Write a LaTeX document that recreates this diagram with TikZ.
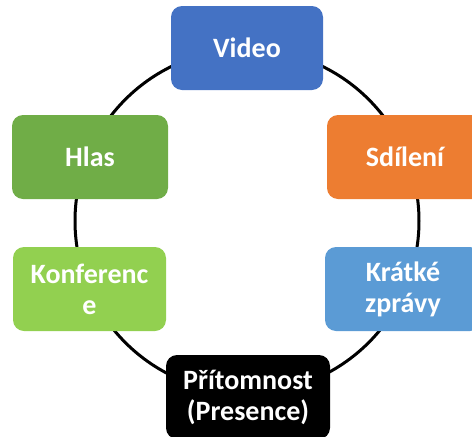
\documentclass[tikz,border=0pt]{standalone}
\usepackage{fontspec}
\setmainfont{Carlito}
\definecolor{cVideo}{HTML}{4472C4}
\definecolor{cShare}{HTML}{ED7D31}
\definecolor{cVoice}{HTML}{70AD47}
\definecolor{cConf}{HTML}{92D050}
\definecolor{cMsg}{HTML}{5B9BD5}
\begin{document}
\begin{tikzpicture}[x=1pt,y=-1pt,
  box/.style={rounded corners=11pt, minimum height=84pt, align=center, text=white,
    font=\fontsize{28}{31}\selectfont\bfseries, inner sep=0pt},
  ring/.style={line width=3pt, black}]
\useasboundingbox (0,0) rectangle (472,437);
\coordinate (c) at (247,221);
\draw[ring] (c) circle[radius=172pt];
\node[box, fill=cVideo, minimum width=152pt] (video) at (247,48) {Video};
\node[box, fill=cVoice, minimum width=156pt] (hlas) at (90,157) {Hlas};
\node[box, fill=cShare, minimum width=156pt] (sdileni) at (405,157) {Sdílení};
\node[box, fill=cConf, minimum width=153pt] (konf) at (89.5,289) {Konferenc\\e};
\node[box, fill=cMsg, minimum width=156pt] (zpravy) at (403,289) {Krátké\\zprávy};
\node[box, fill=black, minimum width=164pt] (pritomnost) at (248,397) {Přítomnost\\(Presence)};
\end{tikzpicture}
\end{document}
